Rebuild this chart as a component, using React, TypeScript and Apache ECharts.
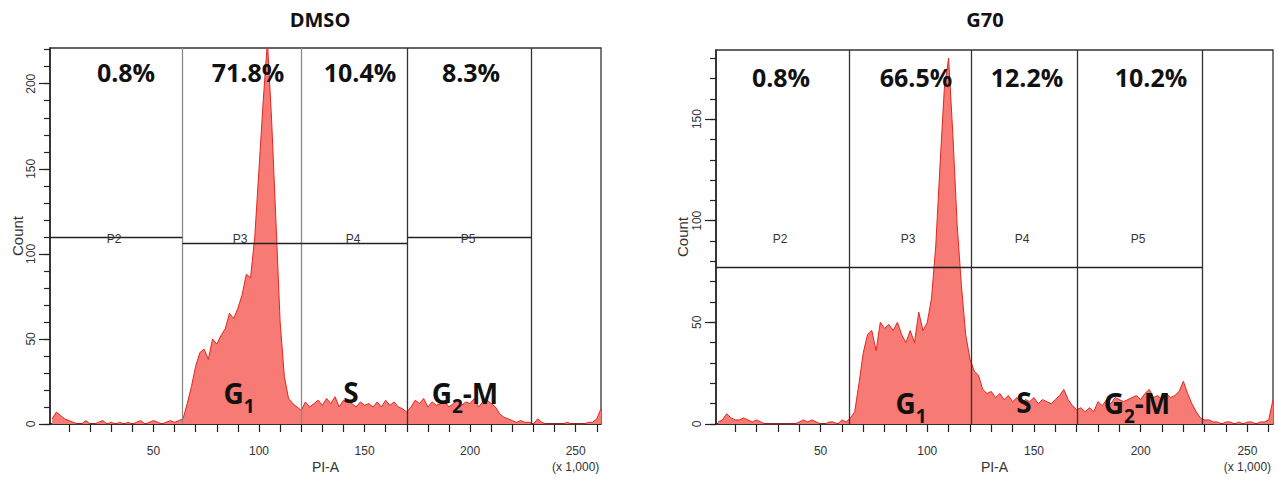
import { useEffect, useRef } from 'react';
import * as echarts from 'echarts';

// Histogram bins: first bin centre and width (x in thousands of PI-A units)
const BIN_START = 2;
const BIN_WIDTH = 2;

// DMSO counts per bin (x = 2, 4, ..., 262)
const dmsoCounts = [
  3, 7, 5, 3, 2, 1, 0, 0, 2, 0,
  0, 1, 2, 0, 1, 0, 1, 0, 1, 0,
  1, 2, 0, 1, 2, 1, 0, 1, 2, 1,
  2, 3,
  12, 22, 34, 42, 44, 38, 50, 47, 52, 56,
  65, 62, 68, 76, 88, 86, 110, 150, 190, 225,
  178, 120, 60, 28, 15, 12, 10, 8,
  13, 10, 12, 14, 11, 15, 12, 16, 10, 14,
  13, 12, 10, 13, 11, 12, 10, 13, 10, 14,
  11, 13, 10, 9, 7,
  10, 14, 12, 15, 10, 13, 11, 12, 13, 10,
  12, 14, 11, 13, 12, 15, 10, 13, 14, 12,
  10, 6, 4, 3, 2, 1, 2, 1, 1, 0,
  3, 1, 0, 0, 0, 0, 0, 1, 0, 0, 0, 0, 1, 1, 3, 9,
];

// G70 counts per bin (x = 2, 4, ..., 262)
const g70Counts = [
  1, 2, 5, 3, 2, 2, 3, 2, 1, 2,
  1, 0, 0, 0, 0, 0, 0, 0, 0, 1,
  2, 1, 2, 1, 0, 0, 1, 1, 0, 2,
  1, 3,
  6, 20, 35, 44, 46, 36, 50, 47, 49, 46,
  50, 44, 40, 46, 40, 55, 46, 50, 62, 88,
  128, 165, 180, 142, 98, 68, 44, 32, 26,
  24, 17, 15, 16, 13, 15, 12, 14, 11, 13,
  10, 12, 11, 13, 10, 12, 11, 10, 12, 14,
  17, 12, 9, 7,
  8, 6, 8, 6, 11, 9, 12, 10, 13, 12,
  11, 12, 13, 14, 12, 15, 17, 13, 14, 12,
  15, 13, 14, 16, 21, 15, 10, 6, 3, 2,
  2, 1, 1, 0, 1, 1, 0, 1, 0, 1, 1, 0, 1, 1, 2, 12,
];

const X_MIN = 1;
const X_MAX = 262;
const xLabelValues = [50, 100, 150, 200, 250];
const xTickValues = [10, 20, 30, 40, 50, 60, 70, 80, 90, 100, 110, 120, 130, 140, 150, 160, 170, 180, 190, 200, 210, 220, 230, 240, 250, 260];

const dmsoYMax = 221;
const dmsoYLabels = [0, 50, 100, 150, 200];
const dmsoYTicks = [0, 10, 20, 30, 40, 50, 60, 70, 80, 90, 100, 110, 120, 130, 140, 150, 160, 170, 180, 190, 200, 210, 220];

const g70YMax = 184;
const g70YLabels = [0, 50, 100, 150];
const g70YTicks = [0, 10, 20, 30, 40, 50, 60, 70, 80, 90, 100, 110, 120, 130, 140, 150, 160, 170, 180];

// Gates
const gateNames = ['P2', 'P3', 'P4', 'P5'];
const dmsoGateEdges = [1, 63.7, 120, 170.3, 229];
const dmsoGateLevels = [110, 106, 106, 110];
const g70GateEdges = [1, 63.6, 120.7, 170.4, 229];
const g70GateLevels = [77, 77, 77, 77];

const dmsoPercents = ['0.8%', '71.8%', '10.4%', '8.3%'];
const g70Percents = ['0.8%', '66.5%', '12.2%', '10.2%'];

const titles = ['DMSO', 'G70'];

const AXIS_FONT = '"Liberation Sans Narrow", "Liberation Sans", Arial, sans-serif';
const BOLD_FONT = '"Open Sans", "Noto Sans", sans-serif';

function gateMarkLines(edges: number[], levels: number[], ymax: number, vColors: string[]) {
  const data: any[] = [];
  for (let i = 1; i < edges.length; i++) {
    data.push([
      { coord: [edges[i], 0], lineStyle: { color: vColors[i - 1], width: 1.3, type: 'solid' } },
      { coord: [edges[i], ymax] },
    ]);
  }
  for (let i = 0; i < levels.length; i++) {
    data.push([
      { coord: [edges[i], levels[i]], lineStyle: { color: '#222', width: 1.3, type: 'solid' } },
      { coord: [edges[i + 1], levels[i]] },
    ]);
  }
  return {
    silent: true,
    symbol: ['none', 'none'],
    label: { show: false },
    emphasis: { disabled: true },
    data,
  };
}

function histSeries(counts: number[], idx: number, edges: number[], levels: number[], ymax: number, vColors: string[]) {
  return {
    type: 'line',
    xAxisIndex: idx,
    yAxisIndex: idx,
    data: counts.map((c, i) => [BIN_START + i * BIN_WIDTH, c]),
    showSymbol: false,
    symbol: 'none',
    clip: true,
    lineStyle: { color: '#e3261f', width: 1 },
    areaStyle: { color: '#f77a74', opacity: 1 },
    markLine: gateMarkLines(edges, levels, ymax, vColors),
  };
}

function xAxis(gridIndex: number) {
  return {
    type: 'value',
    gridIndex,
    min: X_MIN,
    max: X_MAX,
    name: 'PI-A',
    nameLocation: 'middle',
    nameGap: 36,
    nameMoveOverlap: false,
    nameTextStyle: { fontFamily: AXIS_FONT, fontSize: 14, color: '#333' },
    splitLine: { show: false },
    axisLine: { lineStyle: { color: '#222', width: 1.5 } },
    axisTick: { customValues: xTickValues, length: 8, lineStyle: { color: '#222', width: 1.2 } },
    axisLabel: {
      customValues: xLabelValues,
      margin: 19,
      fontFamily: AXIS_FONT,
      fontSize: 12,
      color: '#333',
      lineHeight: 16,
      formatter: (v: number) => (v === 250 ? '250\n(x 1,000)' : String(v)),
    },
  };
}

function yAxis(gridIndex: number, ymax: number, labels: number[], ticks: number[], nameGap: number) {
  return {
    type: 'value',
    gridIndex,
    position: 'left',
    min: 0,
    max: ymax,
    name: 'Count',
    nameLocation: 'middle',
    nameGap,
    nameMoveOverlap: false,
    nameTextStyle: { fontFamily: AXIS_FONT, fontSize: 15, color: '#333' },
    splitLine: { show: false },
    axisLine: { lineStyle: { color: '#222', width: 1.5 } },
    axisTick: { customValues: ticks, length: 6, lineStyle: { color: '#222', width: 1.2 } },
    axisLabel: {
      customValues: labels,
      rotate: 90,
      margin: 13,
      fontFamily: AXIS_FONT,
      fontSize: 12,
      color: '#333',
    },
  };
}

function majorTickAxis(gridIndex: number, ymax: number, labels: number[]) {
  return {
    type: 'value',
    gridIndex,
    position: 'left',
    offset: 0,
    min: 0,
    max: ymax,
    splitLine: { show: false },
    axisLine: { show: false },
    axisLabel: { show: false },
    axisTick: { customValues: labels, length: 11, lineStyle: { color: '#222', width: 1.2 } },
  };
}

function boldText(text: string, x: number, y: number, size: number) {
  return {
    type: 'text',
    x,
    y,
    silent: true,
    z: 100,
    style: {
      text,
      fill: '#111',
      fontSize: size,
      fontWeight: 'bold',
      fontFamily: BOLD_FONT,
      align: 'center',
      verticalAlign: 'middle',
    },
  };
}

function phaseText(main: string, sub: string, rest: string, x: number, y: number) {
  const txt = '{g|' + main + '}{s|' + sub + '}' + (rest ? '{g|' + rest + '}' : '');
  return {
    type: 'text',
    x,
    y,
    silent: true,
    z: 100,
    style: {
      text: txt,
      align: 'center',
      verticalAlign: 'middle',
      rich: {
        g: { fontSize: 28, fontWeight: 'bold', fontFamily: BOLD_FONT, fill: '#111', verticalAlign: 'bottom', lineHeight: 34, padding: [0, 0, 8, 0] },
        s: { fontSize: 19, fontWeight: 'bold', fontFamily: BOLD_FONT, fill: '#111', verticalAlign: 'bottom', lineHeight: 22 },
      },
    },
  };
}

function gateText(text: string, x: number, y: number) {
  return {
    type: 'text',
    x,
    y,
    silent: true,
    z: 100,
    style: {
      text,
      fill: '#333',
      fontSize: 12,
      fontFamily: AXIS_FONT,
      align: 'center',
      verticalAlign: 'middle',
    },
  };
}

export default function App() {
  const ref = useRef<HTMLDivElement>(null);
  useEffect(() => {
    if (!ref.current) return;
    const chart = echarts.init(ref.current, undefined, { renderer: 'svg' });

    const dmsoPctX = [126, 248, 360, 471];
    const g70PctX = [781, 916, 1027, 1151];
    const dmsoPX = [114, 240, 353, 468];
    const g70PX = [780, 908, 1022, 1138];

    const graphics: any[] = [
      boldText(titles[0], 320, 19, 20),
      boldText(titles[1], 985, 19, 20),
    ];
    dmsoPercents.forEach((t, i) => graphics.push(boldText(t, dmsoPctX[i], 72, 25)));
    g70Percents.forEach((t, i) => graphics.push(boldText(t, g70PctX[i], 77, 25)));
    gateNames.forEach((t, i) => graphics.push(gateText(t, dmsoPX[i], 239)));
    gateNames.forEach((t, i) => graphics.push(gateText(t, g70PX[i], 239)));
    graphics.push(phaseText('G', '1', '', 239, 398));
    graphics.push(boldText('S', 351, 392, 28));
    graphics.push(phaseText('G', '2', '-M', 465, 398));
    graphics.push(phaseText('G', '1', '', 911, 408));
    graphics.push(boldText('S', 1024, 402, 28));
    graphics.push(phaseText('G', '2', '-M', 1137, 408));

    chart.setOption({
      animation: false,
      backgroundColor: '#fff',
      grid: [
        { left: 50, right: 678, top: 48, bottom: 55, show: true, borderColor: '#333', borderWidth: 1.3, containLabel: false, outerBoundsMode: 'none' },
        { left: 716, right: 6, top: 50, bottom: 55, show: true, borderColor: '#333', borderWidth: 1.3, containLabel: false, outerBoundsMode: 'none' },
      ],
      xAxis: [xAxis(0), xAxis(1)],
      yAxis: [
        yAxis(0, dmsoYMax, dmsoYLabels, dmsoYTicks, 25),
        yAxis(1, g70YMax, g70YLabels, g70YTicks, 26),
        majorTickAxis(0, dmsoYMax, dmsoYLabels),
        majorTickAxis(1, g70YMax, g70YLabels),
      ],
      series: [
        histSeries(dmsoCounts, 0, dmsoGateEdges, dmsoGateLevels, dmsoYMax, ['#8a8a8a', '#8a8a8a', '#333', '#333']),
        histSeries(g70Counts, 1, g70GateEdges, g70GateLevels, g70YMax, ['#333', '#333', '#333', '#333']),
      ],
      graphic: graphics,
    });
    return () => chart.dispose();
  }, []);
  return (
    <div
      ref={ref}
      style={{ position: 'absolute', left: 0, top: 0, width: 1279, height: 479 }}
    />
  );
}
